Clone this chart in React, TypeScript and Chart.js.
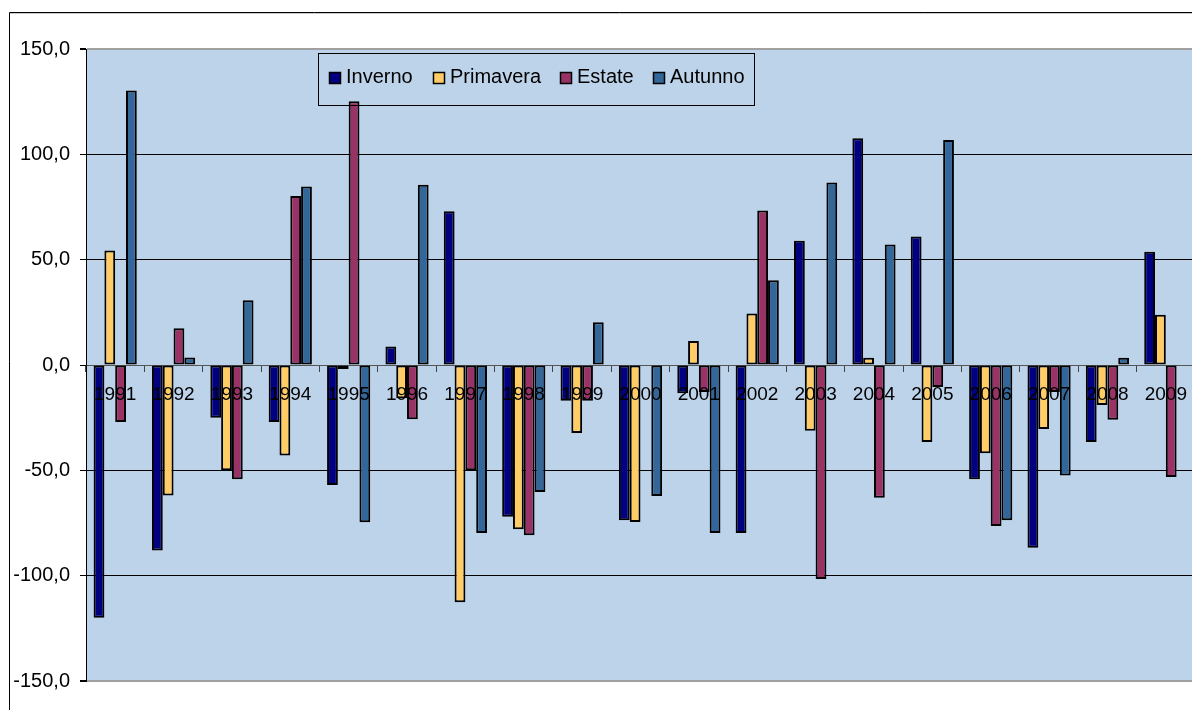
import React, { useEffect, useRef } from 'react';
import { Chart, registerables } from 'chart.js';

Chart.register(...registerables);

const years = ['1991','1992','1993','1994','1995','1996','1997','1998','1999','2000','2001','2002','2003','2004','2005','2006','2007','2008','2009'];
const seriesNames = ['Inverno', 'Primavera', 'Estate', 'Autunno'];
const seriesColors = ['#000080', '#FFCC66', '#993366', '#336699'];

const inverno = [-120, -88, -25, -27, -57, 8.8, 73, -72, -17, -73.7, -13.4, -79.7, 59, 107.6, 61, -54.2, -86.8, -36.6, 53.7];
const primavera = [54.4, -62, -50, -42.9, -1.9, -15.8, -112.6, -78, -32.3, -74.5, 11.4, 24.5, -31.2, 3.4, -36.6, -41.9, -30.4, -19, 23.8];
const estate = [-27, 17.4, -54.2, 80.2, 125.2, -25.7, -50, -80.8, -17, null, -12.8, 73.3, -101.6, -63, -10.5, -76.4, -12.8, -26, -53.2];
const autunno = [130.3, 3.6, 30.7, 84.7, -74.6, 85.6, -79.7, -60.3, 20.3, -62.2, -79.7, 40.2, 86.6, 57.2, 106.8, -73.7, -52.5, 3.4, null];

const yMin = -150;
const yMax = 150;
const yStep = 50;

const FONT = '"Liberation Sans", Arial, sans-serif';
const W = 1230;
const H = 710;

export default function App() {
  const ref = useRef<HTMLCanvasElement>(null);

  useEffect(() => {
    const canvas = ref.current;
    if (!canvas) return;
    const seriesData = [inverno, primavera, estate, autunno];

    const framePlugin = {
      id: 'frame',
      beforeDraw(chart: any) {
        const { ctx, chartArea: a } = chart;
        ctx.save();
        ctx.fillStyle = '#ffffff';
        ctx.fillRect(0, 0, chart.width, chart.height);
        ctx.fillStyle = '#BDD3EA';
        ctx.fillRect(a.left, a.top, a.right - a.left, a.bottom - a.top);
        ctx.strokeStyle = '#000';
        ctx.lineWidth = 1;
        ctx.beginPath();
        ctx.moveTo(9.5, chart.height);
        ctx.lineTo(9.5, 12.5);
        ctx.lineTo(chart.width, 12.5);
        ctx.stroke();
        ctx.strokeStyle = '#c8c8c8';
        ctx.beginPath();
        ctx.moveTo(10, 13.5);
        ctx.lineTo(chart.width, 13.5);
        ctx.stroke();
        ctx.restore();
      },
      afterDraw(chart: any) {
        const { ctx } = chart;
        ctx.save();
        ctx.strokeStyle = '#000';
        ctx.lineWidth = 1;
        ctx.strokeRect(318.5, 53.5, 436, 52);
        const itemX = [329, 433, 560, 653];
        ctx.font = '20px ' + FONT;
        ctx.textBaseline = 'alphabetic';
        chart.data.datasets.forEach((ds: any, i: number) => {
          const x = itemX[i];
          ctx.fillStyle = ds.backgroundColor;
          ctx.fillRect(x + 0.5, 72.5, 11, 11);
          ctx.strokeStyle = '#000';
          ctx.lineWidth = 1.5;
          ctx.strokeRect(x + 0.5, 72.5, 11, 11);
          ctx.fillStyle = '#000';
          ctx.fillText(ds.label, x + 17, 83);
        });
        ctx.restore();
      },
    };

    const chart = new Chart(canvas, {
      type: 'bar',
      data: {
        labels: years,
        datasets: seriesNames.map((name, i) => ({
          label: name,
          data: seriesData[i],
          backgroundColor: seriesColors[i],
          borderColor: '#000',
          borderWidth: 2,
          borderSkipped: false,
          categoryPercentage: 0.74,
          barPercentage: 1,
        })),
      },
      options: {
        responsive: false,
        animation: false,
        devicePixelRatio: 1,
        layout: { padding: { top: 49, left: 0, right: W - 1195, bottom: H - 681 } },
        plugins: { legend: { display: false }, tooltip: { enabled: false } },
        scales: {
          x: {
            type: 'category',
            position: { y: 0 },
            offset: true,
            grid: {
              display: true,
              drawOnChartArea: false,
              drawTicks: true,
              tickLength: 6,
              color: '#444',
              offset: true,
            },
            border: { display: true, color: '#555', width: 1 },
            ticks: {
              z: 2,
              color: '#000',
              font: { family: FONT, size: 19 },
              padding: 12,
              maxRotation: 0,
              autoSkip: false,
            },
          },
          y: {
            min: yMin,
            max: yMax,
            afterFit: (s: any) => { s.width = 86; },
            ticks: {
              stepSize: yStep,
              color: '#000',
              font: { family: FONT, size: 20 },
              padding: 10,
              callback: (v: any) => Number(v).toFixed(1).replace('.', ','),
            },
            grid: {
              drawTicks: true,
              tickLength: 6,
              tickColor: '#000',
              color: (c: any) => (c.tick && Math.abs(c.tick.value) === 150 ? '#a0a0a0' : c.tick && c.tick.value === 0 ? '#555' : '#000'),
              lineWidth: (c: any) => (c.tick && Math.abs(c.tick.value) === 150 ? 2 : 1),
            },
            border: { display: true, color: '#000', width: 1 },
          },
        },
      },
      plugins: [framePlugin],
    } as any);

    return () => chart.destroy();
  }, []);

  return (
    <div style={{ position: 'fixed', left: 0, top: 0, width: 1192, height: 710, overflow: 'hidden', background: '#fff' }}>
      <canvas ref={ref} width={W} height={H} style={{ width: W, height: H, display: 'block' }} />
    </div>
  );
}
